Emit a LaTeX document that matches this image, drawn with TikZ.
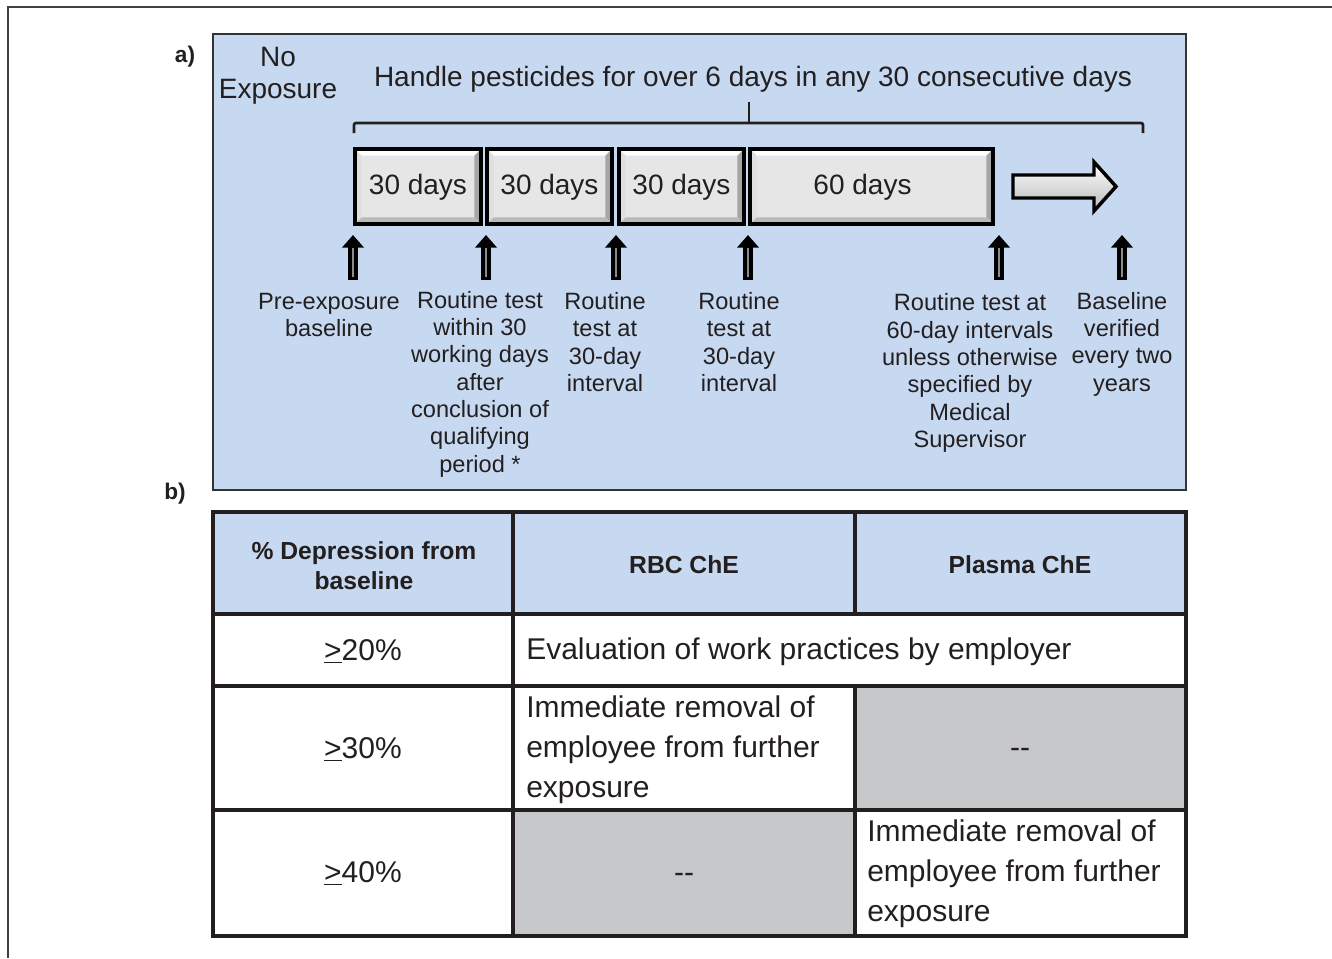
\documentclass[tikz,border=0pt]{standalone}
\usepackage{fontspec}
\setmainfont{Liberation Sans}
\usetikzlibrary{arrows.meta}

\definecolor{panelblue}{HTML}{C6D9F0}
\definecolor{cellgray}{HTML}{C7C8CA}
\definecolor{keygray}{HTML}{E6E6E6}
\definecolor{ink}{HTML}{231F20}

\begin{document}
\begin{tikzpicture}[x=0.75pt,y=-0.75pt,
  every node/.style={inner sep=0pt, text=ink},
  tag/.style={font=\fontsize{17}{20}\selectfont\bfseries},
  headline/.style={align=center, font=\fontsize{21}{24}\selectfont},
  note/.style={align=center, font=\fontsize{17.7}{20.5}\selectfont},
  daybox/.style={draw=black, line width=2.8pt, fill=keygray,
    minimum height=56.25pt, text height=16.5pt, text depth=4.4pt,
    font=\fontsize{21}{25}\selectfont,
    path picture={
      \path (path picture bounding box.north west) coordinate (pnw)
            (path picture bounding box.north east) coordinate (pne)
            (path picture bounding box.south west) coordinate (psw)
            (path picture bounding box.south east) coordinate (pse);
      \fill[white] (pnw) -- (pne) -- ([shift={(-5pt,-5pt)}]pne) -- ([shift={(5pt,-5pt)}]pnw) -- cycle;
      \fill[gray!25] (pnw) -- (psw) -- ([shift={(5pt,5pt)}]psw) -- ([shift={(5pt,-5pt)}]pnw) -- cycle;
      \fill[gray!70] (pne) -- (pse) -- ([shift={(-5pt,5pt)}]pse) -- ([shift={(-5pt,-5pt)}]pne) -- cycle;
      \fill[gray!55] (psw) -- (pse) -- ([shift={(-5pt,5pt)}]pse) -- ([shift={(5pt,5pt)}]psw) -- cycle;
    }},
  uparrow/.style={draw=black, line width=7pt, -{Triangle[width=16pt,length=9.5pt]},
    postaction={draw=black!45, line width=1.2pt, -, shorten >=10pt, shorten <=2pt}},
  bracket/.style={draw=ink, line width=2pt, rounded corners=1.5pt},
  grid/.style={draw=ink, line width=3pt},
  head/.style={align=center, font=\fontsize{18.5}{22.5}\selectfont\bfseries},
  cell/.style={font=\fontsize{22.5}{30}\selectfont},
  celltext/.style={cell, align=left, anchor=west}
]
\useasboundingbox (0,0) rectangle (1332,958);

% page frame
\draw[black!75, line width=1.4pt] (1332,7) -- (8,7) -- (8,958);

% ---------- panel a: testing schedule ----------
\draw[fill=panelblue, draw=black!80, line width=1.6pt] (213,34) rectangle (1186,490);
\node[tag] (taga) at (185,57) {a)};
\node[headline] (noexp) at (278,76) {No\\Exposure};
\node[headline] (handle) at (753,79) {Handle pesticides for over 6 days in any 30 consecutive days};

% brace over the handling period
\coordinate (brl) at (354,133);
\coordinate (brr) at (1143,133);
\coordinate (brm) at (749,123);
\coordinate (brt) at (749,102);
\draw[bracket] (brl) |- (brm) -| (brr);
\draw[bracket] (brm) -- (brt);

% intervals
\node[daybox, minimum width=94.5pt]  (d1) at (418,186.5)   {30 days};
\node[daybox, minimum width=93.75pt] (d2) at (549.5,186.5) {30 days};
\node[daybox, minimum width=93.75pt] (d3) at (681.5,186.5) {30 days};
\node[daybox, minimum width=182.25pt] (d4) at (871.5,186.5) {\kern-13.5pt 60 days};

% continuing arrow
\draw[line width=2.6pt, line join=miter, top color=white, bottom color=gray!55, draw=black]
  (1013,175) -- (1094,175) -- (1094,162) -- (1116,186.5) -- (1094,211) -- (1094,198) -- (1013,198) -- cycle;

% test points
\foreach \i/\xx in {1/353,2/486,3/616,4/748,5/999,6/1122}{
  \coordinate (t\i) at (\xx,280);
  \coordinate (h\i) at (\xx,235);
}
\foreach \i in {1,...,6}{\draw[uparrow] (t\i) -- (h\i);}

\node[note] (n1) at (329,315) {Pre-exposure\\baseline};
\node[note] (n2) at (480,384) {Routine test\\within 30\\working days\\after\\conclusion of\\qualifying\\period *};
\node[note] (n3) at (605,342) {Routine\\test at\\30-day\\interval};
\node[note] (n4) at (739,342) {Routine\\test at\\30-day\\interval};
\node[note] (n5) at (970,373) {Routine test at\\60-day intervals\\unless otherwise\\specified by\\Medical\\Supervisor};
\node[note] (n6) at (1122,344) {Baseline\\verified\\every two\\years};

% ---------- panel b: action table ----------
\node[tag] (tagb) at (175,494) {b)};

\fill[panelblue] (213,512) rectangle (1186,614);
\fill[cellgray] (855,686) rectangle (1186,810);
\fill[cellgray] (513,810) rectangle (855,936);

\draw[grid] (213,614) -- (1186,614);
\draw[grid] (213,686) -- (1186,686);
\draw[grid] (213,810) -- (1186,810);
\draw[grid] (513,512) -- (513,936);
\draw[grid] (855,512) -- (855,614);
\draw[grid] (855,686) -- (855,936);
\draw[grid, line width=3.5pt] (213,512) rectangle (1186,936);

\node[head] (hdep) at (364,566) {\% Depression from\\baseline};
\node[head] (hrbc) at (684,565) {RBC ChE};
\node[head] (hpla) at (1020,565) {Plasma ChE};

\node[cell] (r20) at (363,651) {\underline{>}20\%};
\node[cell] (r30) at (363,749) {\underline{>}30\%};
\node[cell] (r40) at (363,873) {\underline{>}40\%};

\node[celltext] (eval) at (526,652) {Evaluation of work practices by employer};
\node[celltext] (rbcrm) at (526,750) {Immediate removal of\\employee from further\\exposure};
\node[cell] (pldash) at (1020,753) {-{}-};
\node[cell] (rbcdash) at (684,878) {-{}-};
\node[celltext] (plrm) at (867,874) {Immediate removal of\\employee from further\\exposure};
\end{tikzpicture}
\end{document}
